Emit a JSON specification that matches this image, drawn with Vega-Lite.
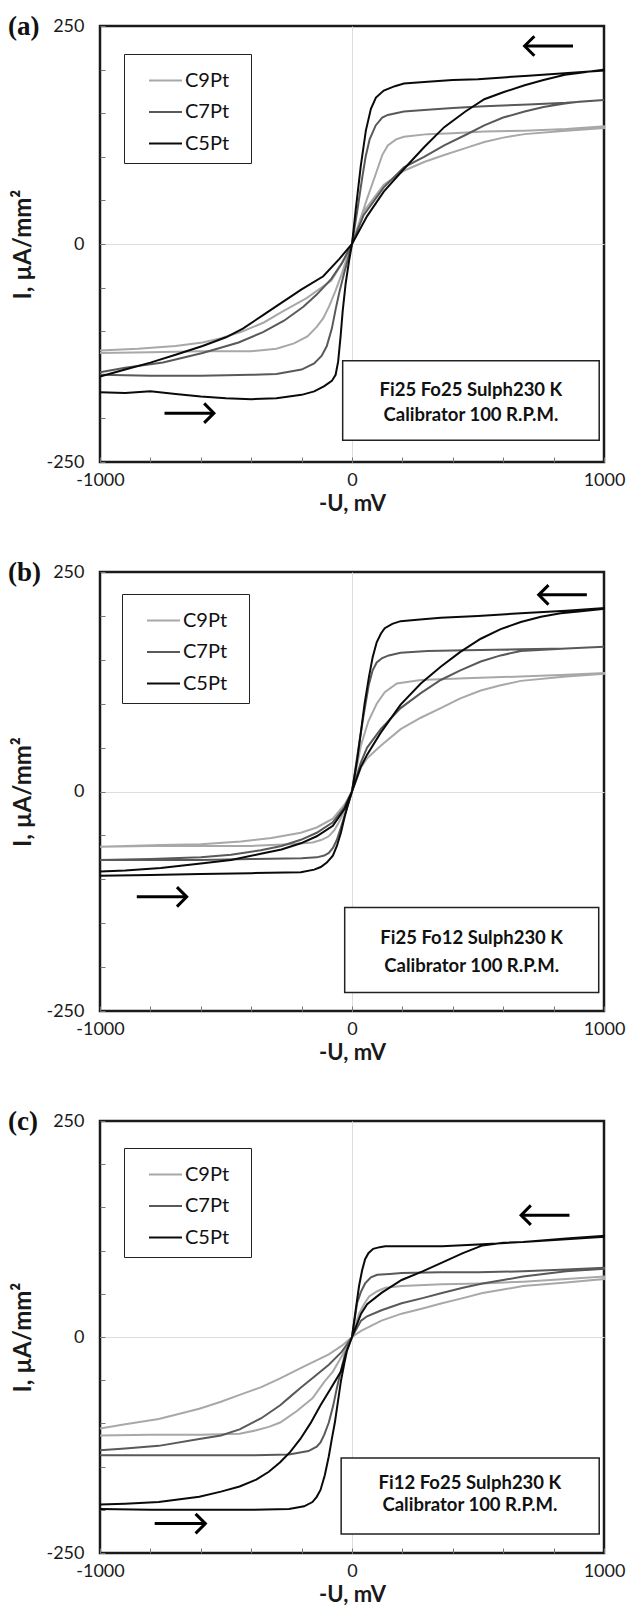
{
"$schema": "https://vega.github.io/schema/vega-lite/v6.json",
"background": "white",
"padding": {"left": 6, "right": 4, "top": 11, "bottom": 4},
"spacing": 110,
"bounds": "flush",
"datasets": {
"a": [
{"series":"C9Pt","x":-1000,"y":-125},{"series":"C9Pt","x":-800,"y":-124},{"series":"C9Pt","x":-600,"y":-123},{"series":"C9Pt","x":-400,"y":-123},{"series":"C9Pt","x":-300,"y":-120},{"series":"C9Pt","x":-230,"y":-114},{"series":"C9Pt","x":-177,"y":-106},{"series":"C9Pt","x":-140,"y":-95},{"series":"C9Pt","x":-114,"y":-85},{"series":"C9Pt","x":-90,"y":-71},{"series":"C9Pt","x":-66,"y":-54},{"series":"C9Pt","x":-40,"y":-34},{"series":"C9Pt","x":-26,"y":-21},{"series":"C9Pt","x":0,"y":0},{"series":"C9Pt","x":30,"y":26},{"series":"C9Pt","x":60,"y":52},{"series":"C9Pt","x":94,"y":80},{"series":"C9Pt","x":120,"y":102},{"series":"C9Pt","x":142,"y":113},{"series":"C9Pt","x":175,"y":120},{"series":"C9Pt","x":206,"y":123},{"series":"C9Pt","x":300,"y":126},{"series":"C9Pt","x":400,"y":127},{"series":"C9Pt","x":525,"y":129},{"series":"C9Pt","x":685,"y":130},{"series":"C9Pt","x":850,"y":132},{"series":"C9Pt","x":1000,"y":135},
{"series":"C9Pt","x":1000,"y":133},{"series":"C9Pt","x":850,"y":130},{"series":"C9Pt","x":685,"y":126},{"series":"C9Pt","x":600,"y":122},{"series":"C9Pt","x":525,"y":117},{"series":"C9Pt","x":450,"y":110},{"series":"C9Pt","x":366,"y":102},{"series":"C9Pt","x":286,"y":94},{"series":"C9Pt","x":206,"y":84},{"series":"C9Pt","x":126,"y":68},{"series":"C9Pt","x":46,"y":37},{"series":"C9Pt","x":0,"y":0},{"series":"C9Pt","x":-40,"y":-22},{"series":"C9Pt","x":-82,"y":-42},{"series":"C9Pt","x":-180,"y":-62},{"series":"C9Pt","x":-273,"y":-77},{"series":"C9Pt","x":-350,"y":-90},{"series":"C9Pt","x":-433,"y":-100},{"series":"C9Pt","x":-520,"y":-108},{"series":"C9Pt","x":-593,"y":-113},{"series":"C9Pt","x":-700,"y":-117},{"series":"C9Pt","x":-850,"y":-120},{"series":"C9Pt","x":-1000,"y":-122},
{"series":"C7Pt","x":-1000,"y":-150},{"series":"C7Pt","x":-800,"y":-151},{"series":"C7Pt","x":-600,"y":-151},{"series":"C7Pt","x":-400,"y":-150},{"series":"C7Pt","x":-300,"y":-149},{"series":"C7Pt","x":-200,"y":-144},{"series":"C7Pt","x":-150,"y":-137},{"series":"C7Pt","x":-120,"y":-128},{"series":"C7Pt","x":-100,"y":-117},{"series":"C7Pt","x":-80,"y":-97},{"series":"C7Pt","x":-65,"y":-75},{"series":"C7Pt","x":-50,"y":-55},{"series":"C7Pt","x":-30,"y":-32},{"series":"C7Pt","x":-15,"y":-16},{"series":"C7Pt","x":0,"y":0},{"series":"C7Pt","x":22,"y":40},{"series":"C7Pt","x":40,"y":75},{"series":"C7Pt","x":54,"y":100},{"series":"C7Pt","x":70,"y":120},{"series":"C7Pt","x":94,"y":136},{"series":"C7Pt","x":120,"y":145},{"series":"C7Pt","x":142,"y":148},{"series":"C7Pt","x":206,"y":152},{"series":"C7Pt","x":300,"y":154},{"series":"C7Pt","x":400,"y":156},{"series":"C7Pt","x":525,"y":158},{"series":"C7Pt","x":700,"y":160},{"series":"C7Pt","x":850,"y":162},{"series":"C7Pt","x":1000,"y":165},
{"series":"C7Pt","x":1000,"y":165},{"series":"C7Pt","x":900,"y":163},{"series":"C7Pt","x":845,"y":161},{"series":"C7Pt","x":760,"y":157},{"series":"C7Pt","x":685,"y":152},{"series":"C7Pt","x":600,"y":145},{"series":"C7Pt","x":525,"y":136},{"series":"C7Pt","x":450,"y":125},{"series":"C7Pt","x":366,"y":113},{"series":"C7Pt","x":286,"y":100},{"series":"C7Pt","x":206,"y":88},{"series":"C7Pt","x":126,"y":65},{"series":"C7Pt","x":46,"y":33},{"series":"C7Pt","x":0,"y":0},{"series":"C7Pt","x":-40,"y":-22},{"series":"C7Pt","x":-82,"y":-40},{"series":"C7Pt","x":-140,"y":-58},{"series":"C7Pt","x":-193,"y":-72},{"series":"C7Pt","x":-270,"y":-88},{"series":"C7Pt","x":-353,"y":-101},{"series":"C7Pt","x":-450,"y":-113},{"series":"C7Pt","x":-593,"y":-125},{"series":"C7Pt","x":-750,"y":-136},{"series":"C7Pt","x":-900,"y":-142},{"series":"C7Pt","x":-1000,"y":-147},
{"series":"C5Pt","x":-1000,"y":-170},{"series":"C5Pt","x":-900,"y":-171},{"series":"C5Pt","x":-800,"y":-169},{"series":"C5Pt","x":-700,"y":-172},{"series":"C5Pt","x":-600,"y":-175},{"series":"C5Pt","x":-500,"y":-177},{"series":"C5Pt","x":-400,"y":-178},{"series":"C5Pt","x":-300,"y":-177},{"series":"C5Pt","x":-200,"y":-173},{"series":"C5Pt","x":-150,"y":-169},{"series":"C5Pt","x":-110,"y":-163},{"series":"C5Pt","x":-80,"y":-157},{"series":"C5Pt","x":-65,"y":-150},{"series":"C5Pt","x":-55,"y":-135},{"series":"C5Pt","x":-45,"y":-105},{"series":"C5Pt","x":-37,"y":-77},{"series":"C5Pt","x":-25,"y":-45},{"series":"C5Pt","x":-12,"y":-20},{"series":"C5Pt","x":0,"y":0},{"series":"C5Pt","x":15,"y":40},{"series":"C5Pt","x":35,"y":90},{"series":"C5Pt","x":55,"y":130},{"series":"C5Pt","x":75,"y":155},{"series":"C5Pt","x":95,"y":168},{"series":"C5Pt","x":126,"y":176},{"series":"C5Pt","x":170,"y":181},{"series":"C5Pt","x":206,"y":184},{"series":"C5Pt","x":300,"y":186},{"series":"C5Pt","x":400,"y":188},{"series":"C5Pt","x":500,"y":189},{"series":"C5Pt","x":600,"y":191},{"series":"C5Pt","x":700,"y":193},{"series":"C5Pt","x":800,"y":195},{"series":"C5Pt","x":900,"y":197},{"series":"C5Pt","x":1000,"y":199},
{"series":"C5Pt","x":1000,"y":200},{"series":"C5Pt","x":900,"y":196},{"series":"C5Pt","x":845,"y":194},{"series":"C5Pt","x":760,"y":188},{"series":"C5Pt","x":685,"y":182},{"series":"C5Pt","x":600,"y":174},{"series":"C5Pt","x":525,"y":166},{"series":"C5Pt","x":450,"y":152},{"series":"C5Pt","x":366,"y":134},{"series":"C5Pt","x":286,"y":111},{"series":"C5Pt","x":206,"y":86},{"series":"C5Pt","x":126,"y":60},{"series":"C5Pt","x":60,"y":32},{"series":"C5Pt","x":0,"y":0},{"series":"C5Pt","x":-50,"y":-17},{"series":"C5Pt","x":-114,"y":-37},{"series":"C5Pt","x":-200,"y":-52},{"series":"C5Pt","x":-273,"y":-66},{"series":"C5Pt","x":-350,"y":-81},{"series":"C5Pt","x":-433,"y":-97},{"series":"C5Pt","x":-500,"y":-107},{"series":"C5Pt","x":-593,"y":-117},{"series":"C5Pt","x":-700,"y":-127},{"series":"C5Pt","x":-800,"y":-136},{"series":"C5Pt","x":-900,"y":-144},{"series":"C5Pt","x":-1000,"y":-152}
],
"b": [
{"series":"C9Pt","x":-1000,"y":-63},{"series":"C9Pt","x":-800,"y":-62},{"series":"C9Pt","x":-600,"y":-62},{"series":"C9Pt","x":-400,"y":-62},{"series":"C9Pt","x":-250,"y":-60},{"series":"C9Pt","x":-156,"y":-58},{"series":"C9Pt","x":-120,"y":-55},{"series":"C9Pt","x":-92,"y":-51},{"series":"C9Pt","x":-70,"y":-44},{"series":"C9Pt","x":-52,"y":-35},{"series":"C9Pt","x":-35,"y":-25},{"series":"C9Pt","x":-21,"y":-15},{"series":"C9Pt","x":0,"y":0},{"series":"C9Pt","x":35,"y":52},{"series":"C9Pt","x":65,"y":80},{"series":"C9Pt","x":98,"y":100},{"series":"C9Pt","x":130,"y":113},{"series":"C9Pt","x":178,"y":123},{"series":"C9Pt","x":273,"y":127},{"series":"C9Pt","x":450,"y":129},{"series":"C9Pt","x":670,"y":131},{"series":"C9Pt","x":850,"y":133},{"series":"C9Pt","x":1000,"y":135},
{"series":"C9Pt","x":1000,"y":134},{"series":"C9Pt","x":850,"y":131},{"series":"C9Pt","x":670,"y":126},{"series":"C9Pt","x":590,"y":121},{"series":"C9Pt","x":511,"y":115},{"series":"C9Pt","x":430,"y":106},{"series":"C9Pt","x":352,"y":95},{"series":"C9Pt","x":273,"y":84},{"series":"C9Pt","x":193,"y":71},{"series":"C9Pt","x":114,"y":52},{"series":"C9Pt","x":60,"y":38},{"series":"C9Pt","x":35,"y":27},{"series":"C9Pt","x":0,"y":0},{"series":"C9Pt","x":-30,"y":-15},{"series":"C9Pt","x":-76,"y":-31},{"series":"C9Pt","x":-140,"y":-41},{"series":"C9Pt","x":-203,"y":-47},{"series":"C9Pt","x":-320,"y":-53},{"series":"C9Pt","x":-441,"y":-57},{"series":"C9Pt","x":-600,"y":-60},{"series":"C9Pt","x":-759,"y":-61},{"series":"C9Pt","x":-1000,"y":-63},
{"series":"C7Pt","x":-1000,"y":-78},{"series":"C7Pt","x":-800,"y":-78},{"series":"C7Pt","x":-600,"y":-78},{"series":"C7Pt","x":-400,"y":-77},{"series":"C7Pt","x":-200,"y":-76},{"series":"C7Pt","x":-140,"y":-75},{"series":"C7Pt","x":-110,"y":-73},{"series":"C7Pt","x":-92,"y":-70},{"series":"C7Pt","x":-75,"y":-64},{"series":"C7Pt","x":-60,"y":-55},{"series":"C7Pt","x":-45,"y":-42},{"series":"C7Pt","x":-29,"y":-27},{"series":"C7Pt","x":0,"y":0},{"series":"C7Pt","x":27,"y":52},{"series":"C7Pt","x":45,"y":85},{"series":"C7Pt","x":67,"y":122},{"series":"C7Pt","x":82,"y":138},{"series":"C7Pt","x":98,"y":147},{"series":"C7Pt","x":120,"y":152},{"series":"C7Pt","x":146,"y":155},{"series":"C7Pt","x":193,"y":158},{"series":"C7Pt","x":300,"y":160},{"series":"C7Pt","x":450,"y":161},{"series":"C7Pt","x":670,"y":162},{"series":"C7Pt","x":850,"y":163},{"series":"C7Pt","x":1000,"y":165},
{"series":"C7Pt","x":1000,"y":165},{"series":"C7Pt","x":850,"y":163},{"series":"C7Pt","x":670,"y":160},{"series":"C7Pt","x":590,"y":155},{"series":"C7Pt","x":511,"y":148},{"series":"C7Pt","x":430,"y":138},{"series":"C7Pt","x":352,"y":127},{"series":"C7Pt","x":273,"y":112},{"series":"C7Pt","x":193,"y":95},{"series":"C7Pt","x":114,"y":71},{"series":"C7Pt","x":60,"y":50},{"series":"C7Pt","x":35,"y":33},{"series":"C7Pt","x":0,"y":0},{"series":"C7Pt","x":-30,"y":-18},{"series":"C7Pt","x":-76,"y":-35},{"series":"C7Pt","x":-140,"y":-47},{"series":"C7Pt","x":-203,"y":-55},{"series":"C7Pt","x":-280,"y":-62},{"series":"C7Pt","x":-362,"y":-67},{"series":"C7Pt","x":-480,"y":-72},{"series":"C7Pt","x":-600,"y":-75},{"series":"C7Pt","x":-800,"y":-77},{"series":"C7Pt","x":-1000,"y":-78},
{"series":"C5Pt","x":-1000,"y":-96},{"series":"C5Pt","x":-800,"y":-95},{"series":"C5Pt","x":-600,"y":-94},{"series":"C5Pt","x":-400,"y":-93},{"series":"C5Pt","x":-203,"y":-92},{"series":"C5Pt","x":-150,"y":-89},{"series":"C5Pt","x":-124,"y":-86},{"series":"C5Pt","x":-100,"y":-81},{"series":"C5Pt","x":-76,"y":-73},{"series":"C5Pt","x":-60,"y":-62},{"series":"C5Pt","x":-44,"y":-47},{"series":"C5Pt","x":-30,"y":-30},{"series":"C5Pt","x":-20,"y":-19},{"series":"C5Pt","x":0,"y":0},{"series":"C5Pt","x":20,"y":35},{"series":"C5Pt","x":35,"y":67},{"series":"C5Pt","x":50,"y":100},{"series":"C5Pt","x":67,"y":130},{"series":"C5Pt","x":82,"y":153},{"series":"C5Pt","x":98,"y":170},{"series":"C5Pt","x":115,"y":180},{"series":"C5Pt","x":130,"y":186},{"series":"C5Pt","x":160,"y":191},{"series":"C5Pt","x":193,"y":194},{"series":"C5Pt","x":270,"y":196},{"series":"C5Pt","x":352,"y":198},{"series":"C5Pt","x":500,"y":200},{"series":"C5Pt","x":670,"y":203},{"series":"C5Pt","x":850,"y":206},{"series":"C5Pt","x":1000,"y":209},
{"series":"C5Pt","x":1000,"y":208},{"series":"C5Pt","x":900,"y":205},{"series":"C5Pt","x":828,"y":203},{"series":"C5Pt","x":750,"y":199},{"series":"C5Pt","x":670,"y":193},{"series":"C5Pt","x":590,"y":185},{"series":"C5Pt","x":511,"y":174},{"series":"C5Pt","x":430,"y":159},{"series":"C5Pt","x":352,"y":142},{"series":"C5Pt","x":273,"y":123},{"series":"C5Pt","x":193,"y":99},{"series":"C5Pt","x":114,"y":67},{"series":"C5Pt","x":60,"y":42},{"series":"C5Pt","x":35,"y":28},{"series":"C5Pt","x":0,"y":0},{"series":"C5Pt","x":-30,"y":-20},{"series":"C5Pt","x":-76,"y":-39},{"series":"C5Pt","x":-140,"y":-51},{"series":"C5Pt","x":-203,"y":-59},{"series":"C5Pt","x":-280,"y":-66},{"series":"C5Pt","x":-362,"y":-71},{"series":"C5Pt","x":-480,"y":-78},{"series":"C5Pt","x":-600,"y":-82},{"series":"C5Pt","x":-759,"y":-87},{"series":"C5Pt","x":-900,"y":-90},{"series":"C5Pt","x":-1000,"y":-91}
],
"c": [
{"series":"C9Pt","x":-1000,"y":-114},{"series":"C9Pt","x":-800,"y":-113},{"series":"C9Pt","x":-600,"y":-113},{"series":"C9Pt","x":-446,"y":-112},{"series":"C9Pt","x":-380,"y":-108},{"series":"C9Pt","x":-330,"y":-104},{"series":"C9Pt","x":-285,"y":-99},{"series":"C9Pt","x":-220,"y":-86},{"series":"C9Pt","x":-157,"y":-71},{"series":"C9Pt","x":-110,"y":-52},{"series":"C9Pt","x":-76,"y":-40},{"series":"C9Pt","x":-50,"y":-27},{"series":"C9Pt","x":-28,"y":-16},{"series":"C9Pt","x":0,"y":0},{"series":"C9Pt","x":28,"y":27},{"series":"C9Pt","x":50,"y":39},{"series":"C9Pt","x":68,"y":47},{"series":"C9Pt","x":100,"y":53},{"series":"C9Pt","x":132,"y":57},{"series":"C9Pt","x":197,"y":59},{"series":"C9Pt","x":357,"y":61},{"series":"C9Pt","x":518,"y":62},{"series":"C9Pt","x":679,"y":64},{"series":"C9Pt","x":850,"y":67},{"series":"C9Pt","x":1000,"y":70},
{"series":"C9Pt","x":1000,"y":67},{"series":"C9Pt","x":850,"y":63},{"series":"C9Pt","x":679,"y":59},{"series":"C9Pt","x":600,"y":55},{"series":"C9Pt","x":518,"y":51},{"series":"C9Pt","x":440,"y":45},{"series":"C9Pt","x":357,"y":39},{"series":"C9Pt","x":280,"y":33},{"series":"C9Pt","x":197,"y":27},{"series":"C9Pt","x":117,"y":19},{"series":"C9Pt","x":36,"y":7},{"series":"C9Pt","x":0,"y":0},{"series":"C9Pt","x":-40,"y":-10},{"series":"C9Pt","x":-92,"y":-20},{"series":"C9Pt","x":-190,"y":-34},{"series":"C9Pt","x":-285,"y":-48},{"series":"C9Pt","x":-360,"y":-58},{"series":"C9Pt","x":-446,"y":-67},{"series":"C9Pt","x":-520,"y":-75},{"series":"C9Pt","x":-606,"y":-83},{"series":"C9Pt","x":-700,"y":-90},{"series":"C9Pt","x":-767,"y":-95},{"series":"C9Pt","x":-900,"y":-101},{"series":"C9Pt","x":-1000,"y":-106},
{"series":"C7Pt","x":-1000,"y":-137},{"series":"C7Pt","x":-800,"y":-137},{"series":"C7Pt","x":-600,"y":-137},{"series":"C7Pt","x":-400,"y":-137},{"series":"C7Pt","x":-250,"y":-136},{"series":"C7Pt","x":-173,"y":-132},{"series":"C7Pt","x":-140,"y":-127},{"series":"C7Pt","x":-125,"y":-122},{"series":"C7Pt","x":-110,"y":-113},{"series":"C7Pt","x":-92,"y":-99},{"series":"C7Pt","x":-75,"y":-80},{"series":"C7Pt","x":-60,"y":-59},{"series":"C7Pt","x":-44,"y":-39},{"series":"C7Pt","x":-28,"y":-20},{"series":"C7Pt","x":0,"y":0},{"series":"C7Pt","x":20,"y":39},{"series":"C7Pt","x":35,"y":52},{"series":"C7Pt","x":52,"y":62},{"series":"C7Pt","x":75,"y":69},{"series":"C7Pt","x":100,"y":72},{"series":"C7Pt","x":150,"y":73},{"series":"C7Pt","x":197,"y":74},{"series":"C7Pt","x":350,"y":75},{"series":"C7Pt","x":500,"y":75},{"series":"C7Pt","x":679,"y":76},{"series":"C7Pt","x":850,"y":78},{"series":"C7Pt","x":1000,"y":80},
{"series":"C7Pt","x":1000,"y":79},{"series":"C7Pt","x":850,"y":76},{"series":"C7Pt","x":679,"y":70},{"series":"C7Pt","x":600,"y":66},{"series":"C7Pt","x":518,"y":62},{"series":"C7Pt","x":440,"y":57},{"series":"C7Pt","x":357,"y":51},{"series":"C7Pt","x":280,"y":45},{"series":"C7Pt","x":197,"y":39},{"series":"C7Pt","x":117,"y":31},{"series":"C7Pt","x":60,"y":24},{"series":"C7Pt","x":36,"y":19},{"series":"C7Pt","x":0,"y":0},{"series":"C7Pt","x":-40,"y":-17},{"series":"C7Pt","x":-92,"y":-32},{"series":"C7Pt","x":-150,"y":-46},{"series":"C7Pt","x":-205,"y":-59},{"series":"C7Pt","x":-245,"y":-69},{"series":"C7Pt","x":-285,"y":-79},{"series":"C7Pt","x":-360,"y":-94},{"series":"C7Pt","x":-446,"y":-107},{"series":"C7Pt","x":-520,"y":-114},{"series":"C7Pt","x":-606,"y":-118},{"series":"C7Pt","x":-767,"y":-126},{"series":"C7Pt","x":-900,"y":-129},{"series":"C7Pt","x":-1000,"y":-131},
{"series":"C5Pt","x":-1000,"y":-199},{"series":"C5Pt","x":-800,"y":-200},{"series":"C5Pt","x":-600,"y":-200},{"series":"C5Pt","x":-400,"y":-200},{"series":"C5Pt","x":-250,"y":-199},{"series":"C5Pt","x":-190,"y":-196},{"series":"C5Pt","x":-157,"y":-191},{"series":"C5Pt","x":-140,"y":-185},{"series":"C5Pt","x":-125,"y":-177},{"series":"C5Pt","x":-108,"y":-160},{"series":"C5Pt","x":-92,"y":-138},{"series":"C5Pt","x":-80,"y":-118},{"series":"C5Pt","x":-68,"y":-99},{"series":"C5Pt","x":-56,"y":-75},{"series":"C5Pt","x":-44,"y":-51},{"series":"C5Pt","x":-30,"y":-30},{"series":"C5Pt","x":-20,"y":-16},{"series":"C5Pt","x":0,"y":0},{"series":"C5Pt","x":15,"y":32},{"series":"C5Pt","x":28,"y":59},{"series":"C5Pt","x":40,"y":77},{"series":"C5Pt","x":52,"y":90},{"series":"C5Pt","x":65,"y":97},{"series":"C5Pt","x":84,"y":102},{"series":"C5Pt","x":110,"y":104},{"series":"C5Pt","x":132,"y":105},{"series":"C5Pt","x":200,"y":105},{"series":"C5Pt","x":357,"y":105},{"series":"C5Pt","x":500,"y":107},{"series":"C5Pt","x":679,"y":110},{"series":"C5Pt","x":850,"y":113},{"series":"C5Pt","x":1000,"y":116},
{"series":"C5Pt","x":1000,"y":117},{"series":"C5Pt","x":850,"y":114},{"series":"C5Pt","x":679,"y":110},{"series":"C5Pt","x":600,"y":109},{"series":"C5Pt","x":518,"y":106},{"series":"C5Pt","x":440,"y":97},{"series":"C5Pt","x":357,"y":86},{"series":"C5Pt","x":280,"y":76},{"series":"C5Pt","x":197,"y":66},{"series":"C5Pt","x":117,"y":51},{"series":"C5Pt","x":60,"y":38},{"series":"C5Pt","x":36,"y":27},{"series":"C5Pt","x":0,"y":0},{"series":"C5Pt","x":-20,"y":-16},{"series":"C5Pt","x":-44,"y":-40},{"series":"C5Pt","x":-85,"y":-60},{"series":"C5Pt","x":-125,"y":-79},{"series":"C5Pt","x":-165,"y":-100},{"series":"C5Pt","x":-205,"y":-118},{"series":"C5Pt","x":-245,"y":-133},{"series":"C5Pt","x":-285,"y":-145},{"series":"C5Pt","x":-330,"y":-156},{"series":"C5Pt","x":-380,"y":-165},{"series":"C5Pt","x":-446,"y":-173},{"series":"C5Pt","x":-520,"y":-179},{"series":"C5Pt","x":-606,"y":-185},{"series":"C5Pt","x":-767,"y":-191},{"series":"C5Pt","x":-900,"y":-193},{"series":"C5Pt","x":-1000,"y":-194}
]
},
"vconcat": [
{
"width": 504, "height": 436,
"title": {"text": "(a)"},
"layer": [
{"data": {"name": "a"}, "mark": {"type": "line", "strokeWidth": 2},
 "encoding": {
  "x": {"field": "x", "type": "quantitative", "scale": {"domain": [-1000, 1000], "nice": false, "zero": false},
        "axis": {"title": "-U, mV", "values": [-1000,-900,-800,-700,-600,-500,-400,-300,-200,-100,0,100,200,300,400,500,600,700,800,900,1000], "labelExpr": "datum.value % 500 === 0 ? '' + datum.value : ''", "grid": true, "gridOpacity": {"condition": {"test": "datum.value === 0 || abs(datum.value) === 500", "value": 1}, "value": 0}}},
  "y": {"field": "y", "type": "quantitative", "scale": {"domain": [-250, 250], "nice": false, "zero": false},
        "axis": {"title": "I, µA/mm²", "values": [-250,-200,-150,-100,-50,0,50,100,150,200,250], "labelExpr": "datum.value % 250 === 0 ? '' + datum.value : ''", "grid": true, "gridOpacity": {"condition": {"test": "datum.value === 0", "value": 1}, "value": 0}}},
  "color": {"field": "series", "type": "nominal", "scale": {"domain": ["C9Pt", "C7Pt", "C5Pt"], "range": ["#a8a8a8", "#595959", "#0a0a0a"]},
            "legend": {"title": " ", "orient": "none", "legendX": 24, "legendY": 28}},
  "order": {"value": null}
 }},
{"data": {"values": [{"x": -37, "x2": 981, "y": -134, "y2": -225}]}, "mark": {"type": "rect", "fill": "white", "stroke": "#222222", "strokeWidth": 1.5},
 "encoding": {"x": {"field": "x", "type": "quantitative"}, "x2": {"field": "x2"}, "y": {"field": "y", "type": "quantitative"}, "y2": {"field": "y2"}}},
{"data": {"values": [{"x": 472, "y": -167, "label": "Fi25 Fo25 Sulph230 K"}, {"x": 472, "y": -196, "label": "Calibrator 100 R.P.M."}]},
 "mark": {"type": "text", "font": "Lato", "fontSize": 18.5, "fontWeight": "bold", "color": "#111111"},
 "encoding": {"x": {"field": "x", "type": "quantitative"}, "y": {"field": "y", "type": "quantitative"}, "text": {"field": "label"}}},
{"data": {"values": [{"x": 685, "x2": 877, "y": 227}, {"x": -744, "x2": -548, "y": -194}]},
 "mark": {"type": "rule", "strokeWidth": 3, "color": "#000000"},
 "encoding": {"x": {"field": "x", "type": "quantitative"}, "x2": {"field": "x2"}, "y": {"field": "y", "type": "quantitative"}}},
{"data": {"values": [{"x": 685, "y": 227}]},
 "mark": {"type": "point", "shape": "M 1 -1 L 0 0 L 1 1", "filled": false, "stroke": "#000000", "strokeWidth": 3, "size": 380, "opacity": 1},
 "encoding": {"x": {"field": "x", "type": "quantitative"}, "y": {"field": "y", "type": "quantitative"}}},
{"data": {"values": [{"x": -548, "y": -194}]},
 "mark": {"type": "point", "shape": "M -1 -1 L 0 0 L -1 1", "filled": false, "stroke": "#000000", "strokeWidth": 3, "size": 380, "opacity": 1},
 "encoding": {"x": {"field": "x", "type": "quantitative"}, "y": {"field": "y", "type": "quantitative"}}}
]
},
{
"width": 504, "height": 439,
"title": {"text": "(b)"},
"layer": [
{"data": {"name": "b"}, "mark": {"type": "line", "strokeWidth": 2},
 "encoding": {
  "x": {"field": "x", "type": "quantitative", "scale": {"domain": [-1000, 1000], "nice": false, "zero": false},
        "axis": {"title": "-U, mV", "values": [-1000,-900,-800,-700,-600,-500,-400,-300,-200,-100,0,100,200,300,400,500,600,700,800,900,1000], "labelExpr": "datum.value % 500 === 0 ? '' + datum.value : ''", "grid": true, "gridOpacity": {"condition": {"test": "datum.value === 0 || abs(datum.value) === 500", "value": 1}, "value": 0}}},
  "y": {"field": "y", "type": "quantitative", "scale": {"domain": [-250, 250], "nice": false, "zero": false},
        "axis": {"title": "I, µA/mm²", "values": [-250,-200,-150,-100,-50,0,50,100,150,200,250], "labelExpr": "datum.value % 250 === 0 ? '' + datum.value : ''", "grid": true, "gridOpacity": {"condition": {"test": "datum.value === 0", "value": 1}, "value": 0}}},
  "color": {"field": "series", "type": "nominal", "scale": {"domain": ["C9Pt", "C7Pt", "C5Pt"], "range": ["#a8a8a8", "#595959", "#0a0a0a"]},
            "legend": {"title": " ", "orient": "none", "legendX": 22, "legendY": 22}},
  "order": {"value": null}
 }},
{"data": {"values": [{"x": -29, "x2": 979, "y": -132, "y2": -229}]}, "mark": {"type": "rect", "fill": "white", "stroke": "#222222", "strokeWidth": 1.5},
 "encoding": {"x": {"field": "x", "type": "quantitative"}, "x2": {"field": "x2"}, "y": {"field": "y", "type": "quantitative"}, "y2": {"field": "y2"}}},
{"data": {"values": [{"x": 475, "y": -167, "label": "Fi25 Fo12 Sulph230 K"}, {"x": 475, "y": -199, "label": "Calibrator 100 R.P.M."}]},
 "mark": {"type": "text", "font": "Lato", "fontSize": 18.5, "fontWeight": "bold", "color": "#111111"},
 "encoding": {"x": {"field": "x", "type": "quantitative"}, "y": {"field": "y", "type": "quantitative"}, "text": {"field": "label"}}},
{"data": {"values": [{"x": 741, "x2": 932, "y": 224}, {"x": -854, "x2": -656, "y": -120}]},
 "mark": {"type": "rule", "strokeWidth": 3, "color": "#000000"},
 "encoding": {"x": {"field": "x", "type": "quantitative"}, "x2": {"field": "x2"}, "y": {"field": "y", "type": "quantitative"}}},
{"data": {"values": [{"x": 741, "y": 224}]},
 "mark": {"type": "point", "shape": "M 1 -1 L 0 0 L 1 1", "filled": false, "stroke": "#000000", "strokeWidth": 3, "size": 380, "opacity": 1},
 "encoding": {"x": {"field": "x", "type": "quantitative"}, "y": {"field": "y", "type": "quantitative"}}},
{"data": {"values": [{"x": -656, "y": -120}]},
 "mark": {"type": "point", "shape": "M -1 -1 L 0 0 L -1 1", "filled": false, "stroke": "#000000", "strokeWidth": 3, "size": 380, "opacity": 1},
 "encoding": {"x": {"field": "x", "type": "quantitative"}, "y": {"field": "y", "type": "quantitative"}}}
]
},
{
"width": 504, "height": 432,
"title": {"text": "(c)"},
"layer": [
{"data": {"name": "c"}, "mark": {"type": "line", "strokeWidth": 2},
 "encoding": {
  "x": {"field": "x", "type": "quantitative", "scale": {"domain": [-1000, 1000], "nice": false, "zero": false},
        "axis": {"title": "-U, mV", "values": [-1000,-900,-800,-700,-600,-500,-400,-300,-200,-100,0,100,200,300,400,500,600,700,800,900,1000], "labelExpr": "datum.value % 500 === 0 ? '' + datum.value : ''", "grid": true, "gridOpacity": {"condition": {"test": "datum.value === 0 || abs(datum.value) === 500", "value": 1}, "value": 0}}},
  "y": {"field": "y", "type": "quantitative", "scale": {"domain": [-250, 250], "nice": false, "zero": false},
        "axis": {"title": "I, µA/mm²", "values": [-250,-200,-150,-100,-50,0,50,100,150,200,250], "labelExpr": "datum.value % 250 === 0 ? '' + datum.value : ''", "grid": true, "gridOpacity": {"condition": {"test": "datum.value === 0", "value": 1}, "value": 0}}},
  "color": {"field": "series", "type": "nominal", "scale": {"domain": ["C9Pt", "C7Pt", "C5Pt"], "range": ["#a8a8a8", "#595959", "#0a0a0a"]},
            "legend": {"title": " ", "orient": "none", "legendX": 24, "legendY": 27}},
  "order": {"value": null}
 }},
{"data": {"values": [{"x": -43, "x2": 981, "y": -140, "y2": -228}]}, "mark": {"type": "rect", "fill": "white", "stroke": "#222222", "strokeWidth": 1.5},
 "encoding": {"x": {"field": "x", "type": "quantitative"}, "x2": {"field": "x2"}, "y": {"field": "y", "type": "quantitative"}, "y2": {"field": "y2"}}},
{"data": {"values": [{"x": 468, "y": -169, "label": "Fi12 Fo25 Sulph230 K"}, {"x": 468, "y": -195, "label": "Calibrator 100 R.P.M."}]},
 "mark": {"type": "text", "font": "Lato", "fontSize": 18.5, "fontWeight": "bold", "color": "#111111"},
 "encoding": {"x": {"field": "x", "type": "quantitative"}, "y": {"field": "y", "type": "quantitative"}, "text": {"field": "label"}}},
{"data": {"values": [{"x": 671, "x2": 863, "y": 141}, {"x": -783, "x2": -582, "y": -216}]},
 "mark": {"type": "rule", "strokeWidth": 3, "color": "#000000"},
 "encoding": {"x": {"field": "x", "type": "quantitative"}, "x2": {"field": "x2"}, "y": {"field": "y", "type": "quantitative"}}},
{"data": {"values": [{"x": 671, "y": 141}]},
 "mark": {"type": "point", "shape": "M 1 -1 L 0 0 L 1 1", "filled": false, "stroke": "#000000", "strokeWidth": 3, "size": 380, "opacity": 1},
 "encoding": {"x": {"field": "x", "type": "quantitative"}, "y": {"field": "y", "type": "quantitative"}}},
{"data": {"values": [{"x": -582, "y": -216}]},
 "mark": {"type": "point", "shape": "M -1 -1 L 0 0 L -1 1", "filled": false, "stroke": "#000000", "strokeWidth": 3, "size": 380, "opacity": 1},
 "encoding": {"x": {"field": "x", "type": "quantitative"}, "y": {"field": "y", "type": "quantitative"}}}
]
}
],
"resolve": {"legend": {"color": "independent"}},
"config": {
 "font": "Lato",
 "view": {"stroke": "#1a1a1a", "strokeWidth": 2.5},
 "axis": {"domain": false, "labelFont": "Lato", "labelFontSize": 18, "labelColor": "#1a1a1a", "titleFont": "Lato", "titleFontWeight": "bold", "titleColor": "#1a1a1a", "tickColor": "#777777", "tickSize": -5, "tickWidth": 1, "labelOverlap": false, "labelFlush": false, "gridColor": "#dddddd", "gridWidth": 1},
 "axisX": {"labelPadding": 14, "titlePadding": 4, "titleFontSize": 22},
 "axisY": {"labelPadding": 21, "titlePadding": 10, "titleFontSize": 24},
 "legend": {"padding": 9, "strokeColor": "#222222", "fillColor": "white", "symbolType": "stroke", "symbolSize": 1089, "symbolStrokeWidth": 2, "labelFont": "Lato", "labelFontSize": 20, "labelColor": "#111111", "rowPadding": 3.5, "symbolOffset": 15, "labelOffset": 2, "titleOrient": "right", "titleFontSize": 1, "titlePadding": 13},
 "title": {"anchor": "start", "frame": "group", "orient": "top", "baseline": "middle", "offset": 0, "dx": -92, "dy": 28, "font": "Liberation Serif", "fontSize": 27, "fontWeight": "bold", "color": "#111111"}
}
}
